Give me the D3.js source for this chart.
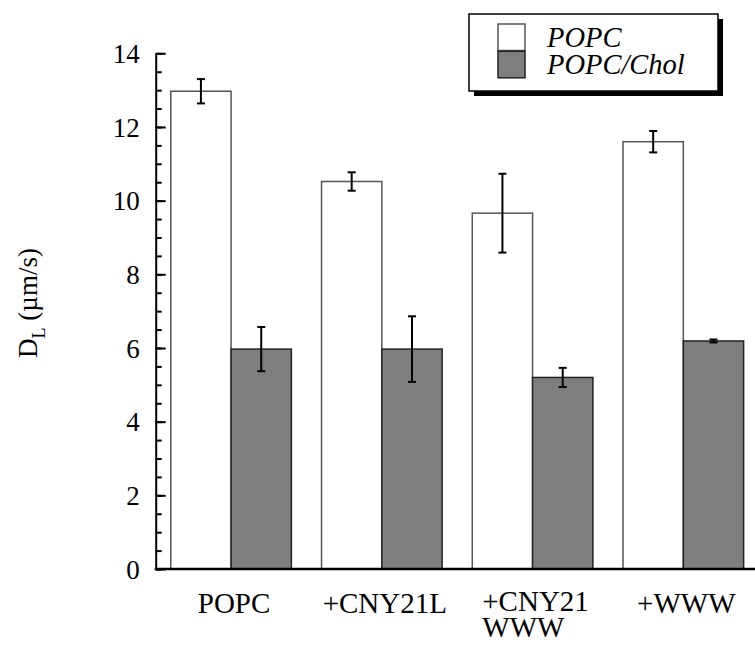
<!DOCTYPE html>
<html>
<head>
<meta charset="utf-8">
<script src="https://cdn.jsdelivr.net/npm/d3@7"></script>
<style>
  html, body { margin: 0; padding: 0; background: #fff; }
  svg { display: block; }
  svg text { font-family: "Liberation Serif", "Times New Roman", Times, serif; fill: #000; }
</style>
</head>
<body>
<svg id="chart" width="755" height="646"></svg>
<script>
// Lateral diffusion coefficients, POPC vs POPC/Chol membranes
const categories = ["POPC", "+CNY21L", "+CNY21\nWWW", "+WWW"];
const seriesNames = ["POPC", "POPC/Chol"];
const popcValues = [12.97, 10.52, 9.66, 11.60];
const popcErrors = [0.33, 0.25, 1.07, 0.29];
const cholValues = [5.97, 5.97, 5.20, 6.19];
const cholErrors = [0.60, 0.89, 0.26, 0.04];
const yTicks = [0, 2, 4, 6, 8, 10, 12, 14];
const yMinorTicks = d3.range(0, 14.01, 0.5);

const serif = "'Liberation Serif', 'Times New Roman', Times, serif";
const fills = { "POPC": "#ffffff", "POPC/Chol": "#7f7f7f" };
const strokes = { "POPC": "#555555", "POPC/Chol": "#222222" };

const svg = d3.select("#chart");
const x0 = 155.7, yBottom = 569, yTop = 53.3;

const y = d3.scaleLinear().domain([0, 14]).range([yBottom, yTop]);
const x = d3.scaleBand().domain(categories).range([x0, 758.7])
  .paddingInner(0.2).paddingOuter(0.1);
const xs = d3.scaleBand().domain(seriesNames).range([0, x.bandwidth()]);

const rows = [];
categories.forEach((c, i) => {
  rows.push({ cat: c, series: "POPC", v: popcValues[i], e: popcErrors[i] });
  rows.push({ cat: c, series: "POPC/Chol", v: cholValues[i], e: cholErrors[i] });
});

// bars
svg.append("g").selectAll("rect").data(rows).join("rect")
  .attr("x", d => x(d.cat) + xs(d.series))
  .attr("y", d => y(d.v))
  .attr("width", xs.bandwidth())
  .attr("height", d => y(0) - y(d.v))
  .attr("fill", d => fills[d.series])
  .attr("stroke", d => strokes[d.series])
  .attr("stroke-width", 1.5);

// error bars
const eb = svg.append("g").attr("stroke", "#000").attr("stroke-width", 2);
rows.forEach(d => {
  const cx = x(d.cat) + xs(d.series) + xs.bandwidth() / 2;
  const y1 = y(d.v + d.e), y2 = y(d.v - d.e);
  eb.append("line").attr("x1", cx).attr("x2", cx).attr("y1", y1).attr("y2", y2);
  eb.append("line").attr("x1", cx - 4).attr("x2", cx + 4).attr("y1", y1).attr("y2", y1);
  eb.append("line").attr("x1", cx - 4).attr("x2", cx + 4).attr("y1", y2).attr("y2", y2);
});

// y axis: minor ticks, then major ticks with labels
const minorAxis = d3.axisLeft(y).tickValues(yMinorTicks).tickSizeInner(-6).tickSizeOuter(0).tickFormat("");
const gMinor = svg.append("g").attr("transform", `translate(${x0},0)`).call(minorAxis);
gMinor.select(".domain").remove();
gMinor.selectAll("line").attr("stroke", "#000").attr("stroke-width", 2);

const majorAxis = d3.axisLeft(y).tickValues(yTicks).tickSizeInner(-10).tickSizeOuter(0).tickPadding(16);
const gMajor = svg.append("g").attr("transform", `translate(${x0},0)`).call(majorAxis)
  .attr("font-family", serif).attr("font-size", 27);
gMajor.select(".domain").attr("stroke", "#000").attr("stroke-width", 2);
gMajor.selectAll("line").attr("stroke", "#000").attr("stroke-width", 2);
gMajor.selectAll("text").style("font-family", serif).style("font-size", "27px")
  .attr("fill", "#000").attr("dy", "0.34em");

// x baseline
svg.append("line").attr("x1", x0 - 1).attr("x2", 755).attr("y1", yBottom).attr("y2", yBottom)
  .attr("stroke", "#000").attr("stroke-width", 2.5);

// category labels (multi-line labels share the left edge of their first line)
categories.forEach(c => {
  const lines = c.split("\n");
  const cx = x(c) + x.bandwidth() / 2 + 3;
  const t = svg.append("text").style("font-family", serif).style("font-size", "29px")
    .attr("y", lines.length > 1 ? 611 : 613);
  const first = t.append("tspan").attr("x", cx).attr("text-anchor", "middle").text(lines[0]);
  const w = first.node().getComputedTextLength();
  lines.slice(1).forEach(l => {
    t.append("tspan").attr("x", cx - w / 2).attr("dy", 26).attr("text-anchor", "start").text(l);
  });
});

// y title
const yt = svg.append("text")
  .attr("transform", "translate(37,303) rotate(-90)")
  .attr("text-anchor", "middle").style("font-family", serif).style("font-size", "27px");
yt.append("tspan").text("D");
yt.append("tspan").style("font-size", "18px").attr("dy", 8).text("L");
yt.append("tspan").attr("dy", -8).text(" (\u00b5m/s)");

// legend
const lg = svg.append("g");
lg.append("rect").attr("x", 474).attr("y", 19).attr("width", 249).attr("height", 77).attr("fill", "#000");
lg.append("rect").attr("x", 469).attr("y", 14).attr("width", 249).attr("height", 77)
  .attr("fill", "#fff").attr("stroke", "#000").attr("stroke-width", 1.5);
seriesNames.forEach((s, i) => {
  lg.append("rect").attr("x", 498).attr("y", 24 + i * 27.3).attr("width", 27).attr("height", 26.5)
    .attr("fill", fills[s]).attr("stroke", strokes[s]).attr("stroke-width", 1.5);
  lg.append("text").attr("x", 547).attr("y", 46.5 + i * 27.5)
    .style("font-family", serif).style("font-size", "28.5px").style("font-style", "italic").text(s);
});
</script>
</body>
</html>
